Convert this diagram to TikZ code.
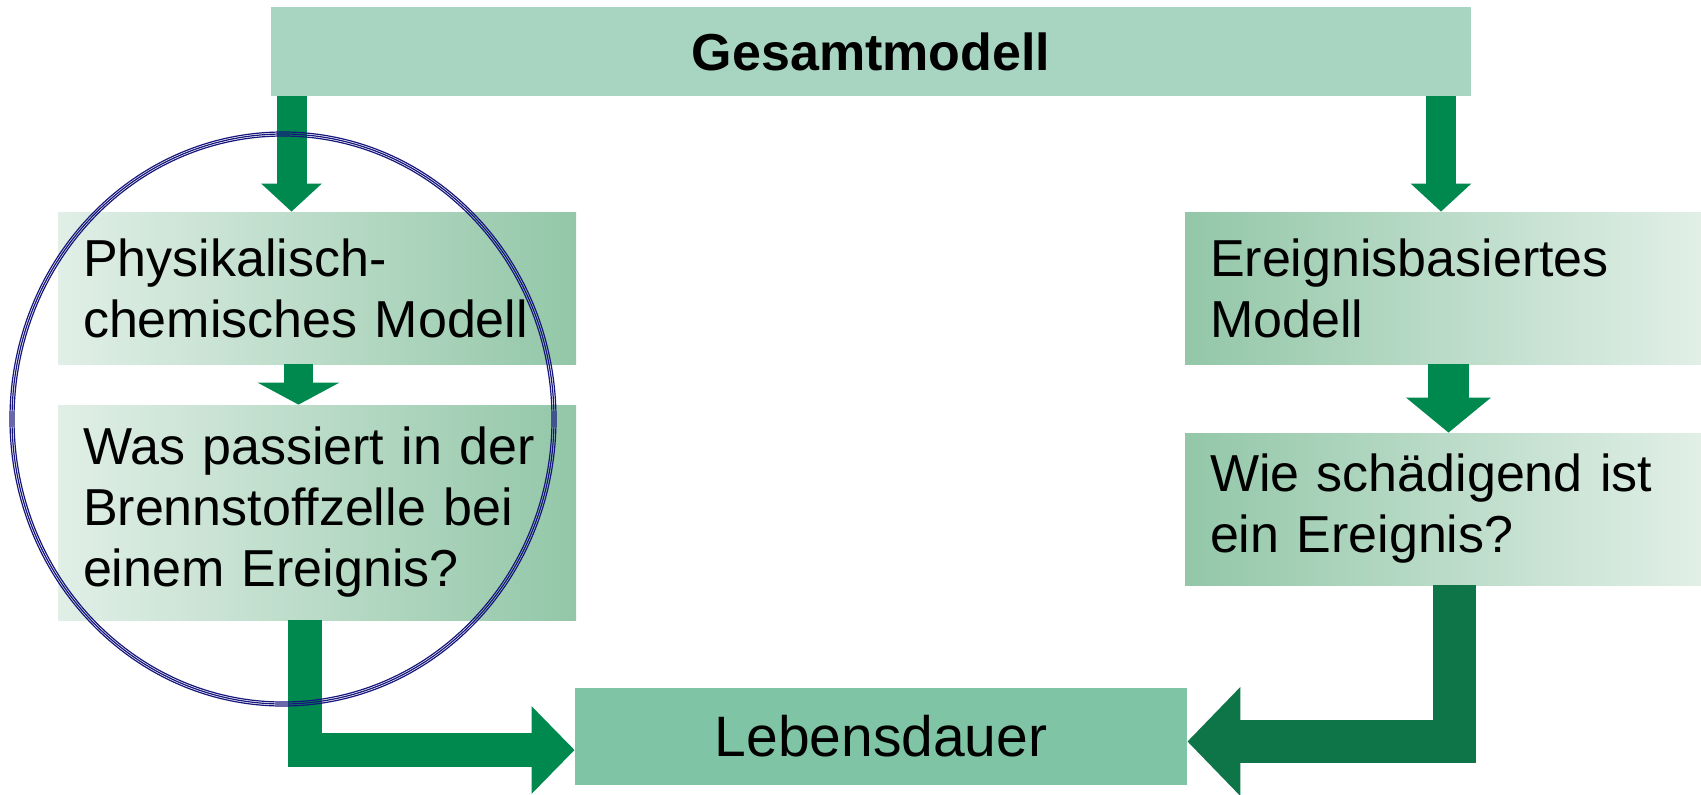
\documentclass[tikz,border=0pt]{standalone}
\usepackage{fontspec}
\setmainfont{Liberation Sans}
\usepackage{tikz}
\usetikzlibrary{arrows.meta}
\definecolor{topbox}{HTML}{A8D5C2}
\definecolor{lifebox}{HTML}{7FC4A4}
\definecolor{boxdark}{HTML}{93C7A8}
\definecolor{boxlight}{HTML}{E1EFE7}
\definecolor{flowgreen}{HTML}{00894F}
\definecolor{flowdark}{HTML}{0E7549}
\definecolor{ringblue}{HTML}{16167C}

\begin{document}
\begin{tikzpicture}[x=0.5pt,y=-0.5pt,
  box/.style={inner xsep=12.5pt, inner ysep=0pt, align=left, minimum height=76pt,
    font=\fontsize{26}{30.5}\selectfont},
  flow/.style={draw=flowgreen, line width=#1}]
  \useasboundingbox[fill=white] (0,0) rectangle (1701,794);

  % boxes
  \node[fill=topbox, minimum width=600pt, minimum height=44.5pt,
    font=\fontsize{26}{30}\selectfont\bfseries] (gesamt) at (871,51.5) {Gesamtmodell};
  \node[box, text width=234pt, left color=boxlight, right color=boxdark] (phys) at (317,288)
    {Physikalisch-\\chemisches Modell};
  \node[box, text width=234pt, minimum height=107.5pt, left color=boxlight, right color=boxdark] (event) at (317,512.5)
    {Was passiert in der\\Brennstoffzelle bei\\einem Ereignis?};
  \node[box, text width=233pt, left color=boxdark, right color=boxlight] (ereig) at (1443,288)
    {Ereignisbasiertes\\Modell};
  \node[box, text width=233pt, left color=boxdark, right color=boxlight] (schaed) at (1443,509)
    {Wie schädigend ist\\ein Ereignis?};
  \node[fill=lifebox, minimum width=306pt, minimum height=48.5pt,
    font=\fontsize{28.5}{32}\selectfont] (leben) at (881,736.5) {Lebensdauer};

  % arrows
  \coordinate (p1) at ([xshift=-12.75pt]phys.north);
  \coordinate (p2) at ([xshift=-9.25pt]event.north);
  \coordinate (e1) at ([xshift=-1pt]ereig.north);
  \coordinate (e2) at ([xshift=2.75pt]schaed.north);
  \coordinate (lin) at ([yshift=-6.75pt]leben.west);
  \coordinate (rin) at ([yshift=-2.5pt]leben.east);
  \draw[flow=15pt, -{Triangle[width=29.5pt,length=14pt]}] (gesamt.south -| p1) -- (p1);
  \draw[flow=15pt, -{Triangle[width=29.5pt,length=14pt]}] (gesamt.south -| e1) -- (e1);
  \draw[flow=14.5pt, -{Triangle[width=40.5pt,length=11pt]}] (phys.south -| p2) -- (p2);
  \draw[flow=20.5pt, -{Triangle[width=41.5pt,length=17.5pt]}] (ereig.south -| e2) -- (e2);
  \draw[flow=17pt, -{Triangle[width=42.5pt,length=21.5pt]}]
    ([xshift=-6.25pt]event.south) |- (lin);
  \draw[flow=21.5pt, draw=flowdark, -{Triangle[width=53pt,length=26.5pt]}]
    ([xshift=5.75pt]schaed.south) |- (rin);

  % ring round the left column
  \foreach \rx/\ry in {273/287,271/285,269/283}
    \draw[ringblue, line width=0.6pt] (283,419) ellipse [x radius=\rx, y radius=\ry];
\end{tikzpicture}
\end{document}
